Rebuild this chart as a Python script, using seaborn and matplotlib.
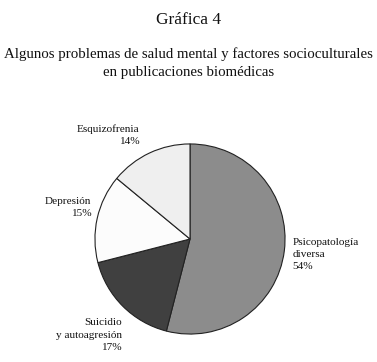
import matplotlib; matplotlib.use("Agg")
import matplotlib.pyplot as plt
import seaborn as sns

categories = ["Psicopatología\ndiversa", "Suicidio\ny autoagresión", "Depresión", "Esquizofrenia"]
shares = [54, 17, 15, 14]
colors = ["#8c8c8c", "#404040", "#fcfcfc", "#efefef"]
# label anchor (data units relative to pie radius) and alignment
label_pos = [(1.08, -0.16, "left"), (-0.72, -1.01, "right"),
             (-1.04, 0.33, "right"), (-0.53, 1.09, "right")]

sns.set_style("white")
plt.rcParams["font.family"] = ["Liberation Serif", "DejaVu Serif"]

W, H = 377, 362
fig = plt.figure(figsize=(W / 100, H / 100), dpi=100)
cx, cy, r = 190, 239, 96
ax = fig.add_axes([(cx - r) / W, (H - cy - r) / H, 2 * r / W, 2 * r / H])

ax.pie(shares, colors=colors, startangle=90, counterclock=False,
       wedgeprops=dict(edgecolor="#222222", linewidth=0.8), radius=1)
ax.set_xlim(-1.01, 1.01); ax.set_ylim(-1.01, 1.01); ax.set_aspect("equal")
ax.axis("off")

for lab, val, (x, y, ha) in zip(categories, shares, label_pos):
    ax.text(x, y, f"{lab}\n{val}%", ha=ha, va="center", multialignment=ha,
            fontsize=8.1, linespacing=1.45, color="#111111", clip_on=False)

fig.text(0.5, 1 - 20 / H, "Gráfica 4", ha="center", va="center", fontsize=12.5, color="#111111")
fig.text(0.5, 1 - 63 / H,
         "Algunos problemas de salud mental y factores socioculturales\nen publicaciones biomédicas",
         ha="center", va="center", fontsize=10.7, linespacing=1.43, color="#111111")

fig.savefig("out.png", dpi=100, facecolor="white")
